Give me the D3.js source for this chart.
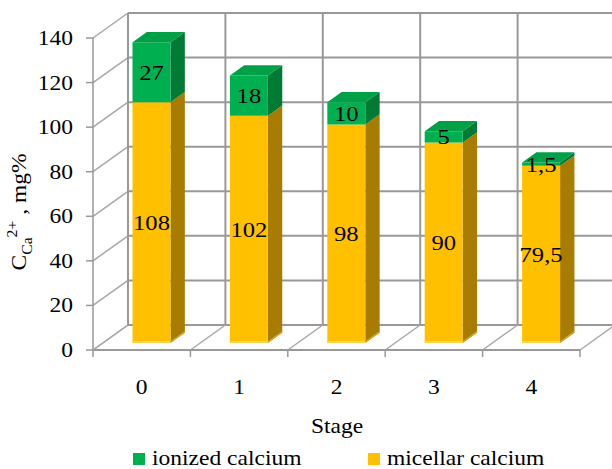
<!DOCTYPE html>
<html>
<head>
<meta charset="utf-8">
<script src="https://cdn.jsdelivr.net/npm/d3@7"></script>
<style>
  html, body { margin: 0; padding: 0; background: #fff; }
  svg { display: block; }
</style>
</head>
<body>
<svg id="chart" width="612" height="469"></svg>
<script>
// Stages and calcium fractions (mg%)
const stages = ["0", "1", "2", "3", "4"];
const ionized = [27, 18, 10, 5, 1.5];
const micellar = [108, 102, 98, 90, 79.5];
const ionizedLabels = ["27", "18", "10", "5", "1,5"];
const micellarLabels = ["108", "102", "98", "90", "79,5"];
const yTicks = [0, 20, 40, 60, 80, 100, 120, 140];

const FONT = '"Liberation Serif"';
const STRETCH = 1.12;   // slightly wide lettering
const svg = d3.select("#chart");

// text helper: positioned with a transform so the glyphs can be widened
function txt(parent, x, y, str, size, anchor) {
  return parent.append("text")
    .attr("transform", `translate(${x},${y}) scale(${STRETCH},1)`)
    .style("font-family", FONT)
    .style("font-size", size + "px")
    .attr("text-anchor", anchor || "start")
    .attr("fill", "#000")
    .text(str);
}

// Front plane of the 3D box
const x = d3.scaleBand().domain(stages).range([93, 580]).paddingInner(0).paddingOuter(0);
const y = d3.scaleLinear().domain([0, 140]).range([350, 38]);

// Depth vector of the 3D box (front -> back)
const DX = 35, DY = -25;
const proj = (px, v, d) => [px + d * DX, y(v) + d * DY];

const gridCol = "#999";
const diagCol = "#a8a8a8";

const grid = svg.append("g");
const xEnd = x.range()[1];

// back wall horizontal gridlines
yTicks.forEach(t => {
  const a = proj(93, t, 1), b = proj(xEnd, t, 1);
  grid.append("line").attr("x1", a[0]).attr("y1", a[1]).attr("x2", b[0] + 2).attr("y2", b[1])
    .attr("stroke", gridCol).attr("stroke-width", 2);
  // side wall diagonals
  const f = proj(93, t, 0);
  grid.append("line").attr("x1", f[0]).attr("y1", f[1]).attr("x2", a[0]).attr("y2", a[1])
    .attr("stroke", diagCol).attr("stroke-width", 1.5);
  // tick marks on the value axis
  grid.append("line").attr("x1", f[0] - 7).attr("y1", f[1]).attr("x2", f[0]).attr("y2", f[1])
    .attr("stroke", gridCol).attr("stroke-width", 1.5);
});

// back wall vertical gridlines and floor diagonals at category boundaries
const bounds = stages.map(s => x(s)).concat([xEnd]);
bounds.forEach(bx => {
  const top = proj(bx, 140, 1), bot = proj(bx, 0, 1), f = proj(bx, 0, 0);
  grid.append("line").attr("x1", top[0]).attr("y1", top[1]).attr("x2", bot[0]).attr("y2", bot[1])
    .attr("stroke", gridCol).attr("stroke-width", 2);
  grid.append("line").attr("x1", f[0]).attr("y1", f[1]).attr("x2", bot[0]).attr("y2", bot[1])
    .attr("stroke", diagCol).attr("stroke-width", 1.5);
  grid.append("line").attr("x1", f[0]).attr("y1", f[1]).attr("x2", f[0]).attr("y2", f[1] + 7)
    .attr("stroke", gridCol).attr("stroke-width", 1.5);
});

// front axis line and front floor edge
grid.append("line").attr("x1", 93).attr("y1", y(140)).attr("x2", 93).attr("y2", y(0))
  .attr("stroke", gridCol).attr("stroke-width", 1.5);
grid.append("line").attr("x1", 93).attr("y1", y(0)).attr("x2", xEnd).attr("y2", y(0))
  .attr("stroke", gridCol).attr("stroke-width", 2);

// Bars
const F0 = 0.28, F1 = 0.69;        // bar front / back depth
const barW = x.bandwidth() * 0.39;
const series = [
  { vals: micellar, labels: micellarLabels, front: "#FFC000", side: "#A87C00", top: "#E6AD00" },
  { vals: ionized, labels: ionizedLabels, front: "#00B050", side: "#007A35", top: "#00A046" }
];

const bars = svg.append("g");
const poly = pts => pts.map(p => p.join(",")).join(" ");

stages.forEach((s, i) => {
  const cx = x(s) + x.bandwidth() / 2;
  const xl = cx - barW / 2, xr = cx + barW / 2;
  let base = 0;
  series.forEach((ser, k) => {
    const v0 = base, v1 = base + ser.vals[i];
    const isTop = k === series.length - 1;
    const fl0 = proj(xl, v0, F0), fr0 = proj(xr, v0, F0);
    const fl1 = proj(xl, v1, F0), fr1 = proj(xr, v1, F0);
    const br0 = proj(xr, v0, F1), br1 = proj(xr, v1, F1), bl1 = proj(xl, v1, F1);
    // side face
    bars.append("polygon").attr("points", poly([fr0, br0, br1, fr1])).attr("fill", ser.side);
    // front face
    bars.append("polygon").attr("points", poly([fl0, fr0, fr1, fl1])).attr("fill", ser.front);
    if (k === 0) {
      // lighter bottom edge
      bars.append("line").attr("x1", fl0[0]).attr("y1", fl0[1] - 1).attr("x2", fr0[0]).attr("y2", fr0[1] - 1)
        .attr("stroke", "#FFD54F").attr("stroke-width", 2);
      bars.append("line").attr("x1", fr0[0]).attr("y1", fr0[1] - 1).attr("x2", br0[0]).attr("y2", br0[1] - 1)
        .attr("stroke", "#D9A82A").attr("stroke-width", 1.5);
    }
    if (isTop) {
      bars.append("polygon").attr("points", poly([fl1, fr1, br1, bl1])).attr("fill", ser.top);
    }
    // value label centred on the front face
    txt(bars, cx + F0 * DX, (fl0[1] + fl1[1]) / 2 + 7.5, ser.labels[i], 22, "middle");
    base = v1;
  });
});

// Value axis labels
const axisText = svg.append("g");
yTicks.forEach(t => txt(axisText, 73, y(t) + 7, t, 21, "end"));

// Category labels
stages.forEach(s => txt(axisText, x(s) + x.bandwidth() / 2, 394, s, 21, "middle"));

// Axis titles
txt(axisText, 337, 433, "Stage", 21, "middle");

const yt = axisText.append("text")
  .style("font-family", FONT).style("font-size", "21px")
  .attr("transform", `translate(26,212) rotate(-90) scale(${STRETCH},1)`)
  .attr("text-anchor", "middle");
yt.append("tspan").text("C");
yt.append("tspan").style("font-size", "14px").attr("dy", 6).text("Ca");
yt.append("tspan").style("font-size", "14px").attr("dy", -15).text("2+");
yt.append("tspan").attr("dy", 9).text(" ,  mg%");

// Legend
const legend = svg.append("g");
const legendItems = [
  { name: "ionized calcium", color: "#00B050", x: 133 },
  { name: "micellar calcium", color: "#FFC000", x: 368 }
];
legendItems.forEach(it => {
  legend.append("rect").attr("x", it.x).attr("y", 453).attr("width", 12).attr("height", 12).attr("fill", it.color);
  txt(legend, it.x + 19, 465, it.name, 21, "start");
});
</script>
</body>
</html>
